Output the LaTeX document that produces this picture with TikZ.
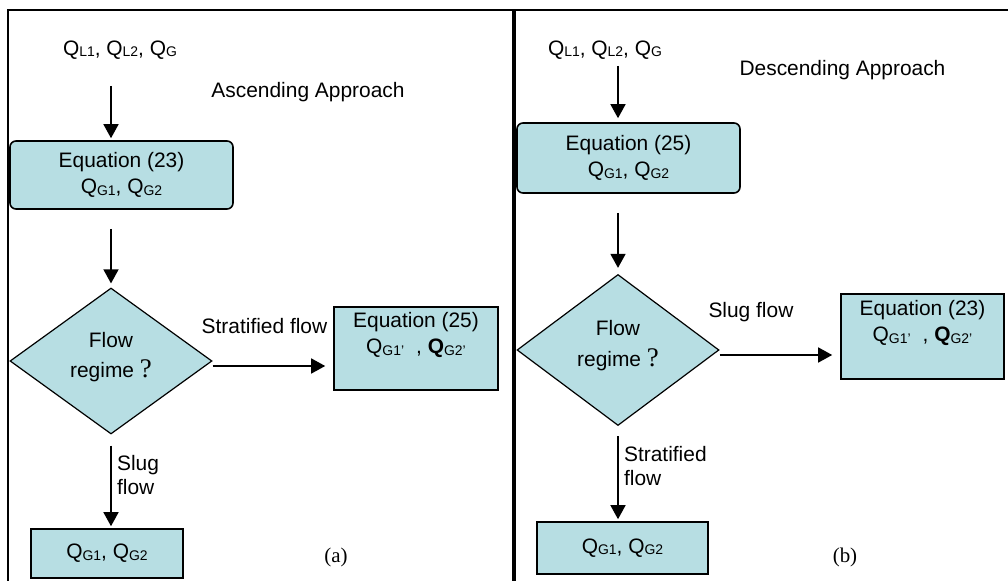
\documentclass[tikz,border=0pt]{standalone}
\usepackage{fontspec}
\setmainfont{Liberation Sans}
\newfontfamily\timesfont{Liberation Serif}
\usetikzlibrary{
	positioning,
	arrows.meta,
	shapes.geometric
}
\definecolor{flowfill}{RGB}{183,222,227}
\newcommand{\qq}[1]{Q\raisebox{-1.5pt}{\fontsize{14}{14}\selectfont #1}}
\newcommand{\qqb}[1]{{\bfseries Q}\raisebox{-1.5pt}{\fontsize{14}{14}\selectfont #1}}
\newcommand{\qmark}{{\timesfont\fontsize{27}{26}\selectfont ?}}

\begin{document}
\begin{tikzpicture}[
			x=1bp, y=-1bp,
			font=\fontsize{21}{26}\selectfont,
			eqbox/.style={
				draw,
				line width=1.6bp,
				rounded corners=6bp,
				fill=flowfill,
				inner sep=2bp,
				align=center
			},
			resbox/.style={
				draw,
				line width=1.6bp,
				fill=flowfill,
				inner sep=2bp,
				align=center
			},
			decision/.style={
				draw,
				diamond,
				aspect=1.38,
				line width=1.2bp,
				fill=flowfill,
				inner sep=0pt,
				text depth=13bp,
				align=center
			},
			arrow/.style={-{Triangle[length=14bp,width=15bp]},line width=1.5bp},
			frame/.style={line width=2bp}
			]
			
			\useasboundingbox (0,0) rectangle (1008,581);
			
			% frames of the two panels
			\draw[frame] (8,581) -- (8,10) -- (1008,10);
			\draw[line width=4bp] (514,10) -- (514,581);
			
			% (a) ascending approach
			\node (inL) at (120,50) {\qq{L1}, \qq{L2}, \qq{G}};
			\node (titleL) at (308,92) {Ascending Approach};
			
			\node[eqbox,minimum width=223bp,minimum height=68bp] (eqL) at (121.5,175)
			{Equation (23)\\\qq{G1}, \qq{G2}};
			
			\node[decision,minimum width=202bp,minimum height=146bp] (dL) at (111,361)
			{Flow\\[4bp]regime \qmark};
			
			\node[resbox,minimum width=164bp,minimum height=83bp,text depth=31bp] (sideL) at (416,348.5)
			{Equation (25)\\\qq{G1'}\hspace{12bp}, \qqb{G2'}};
			
			\node[resbox,minimum width=152bp,minimum height=49bp] (botL) at (107,553.5)
			{\qq{G1}, \qq{G2}};
			
			\node[font=\timesfont\fontsize{21}{26}\selectfont] (capL) at (336,557) {(a)};
			
			\draw[arrow,shorten <=23bp,shorten >=2bp] (inL.south -| dL.north) -- (eqL.north -| dL.north);
			\draw[arrow,shorten <=19bp,shorten >=4bp] (eqL.south -| dL.north) -- (dL.north);
			\draw[arrow,shorten >=8bp] ([yshift=-5bp]dL.east) -- ([yshift=-5bp]dL.east -| sideL.west)
				node[pos=0.43,above=28bp] {Stratified flow};
			\draw[arrow,shorten <=11bp,shorten >=2bp] (dL.south) -- (dL.south |- botL.north)
				node[pos=0.43,right=2bp,align=left] {Slug\\[-2bp]flow};
			
			% (b) descending approach
			\node (inR) at (605,50) {\qq{L1}, \qq{L2}, \qq{G}};
			\node (titleR) at (842.5,70) {Descending Approach};
			
			\node[eqbox,minimum width=223bp,minimum height=70bp] (eqR) at (628.5,158)
			{Equation (25)\\\qq{G1}, \qq{G2}};
			
			\node[decision,minimum width=202bp,minimum height=151bp] (dR) at (618,350)
			{Flow\\[5bp]regime \qmark};
			
			\node[resbox,minimum width=163bp,minimum height=85bp,text depth=31bp] (sideR) at (922.5,336.5)
			{Equation (23)\\\qq{G1'}\hspace{12bp}, \qqb{G2'}};
			
			\node[resbox,minimum width=171bp,minimum height=52bp] (botR) at (622.5,548)
			{\qq{G1}, \qq{G2}};
			
			\node[font=\timesfont\fontsize{21}{26}\selectfont] (capR) at (845,557) {(b)};
			
			\draw[arrow,shorten <=3bp,shorten >=4bp] (inR.south -| dR.north) -- (eqR.north -| dR.north);
			\draw[arrow,shorten <=19bp,shorten >=6bp] (eqR.south -| dR.north) -- (dR.north);
			\draw[arrow,shorten >=8bp] ([yshift=-5bp]dR.east) -- ([yshift=-5bp]dR.east -| sideR.west)
				node[pos=0.26,above=29bp] {Slug flow};
			\draw[arrow,shorten <=10bp,shorten >=2bp] (dR.south) -- (dR.south |- botR.north)
				node[pos=0.42,right=2bp,align=left] {Stratified\\[-1bp]flow};
			
		\end{tikzpicture}
\end{document}
